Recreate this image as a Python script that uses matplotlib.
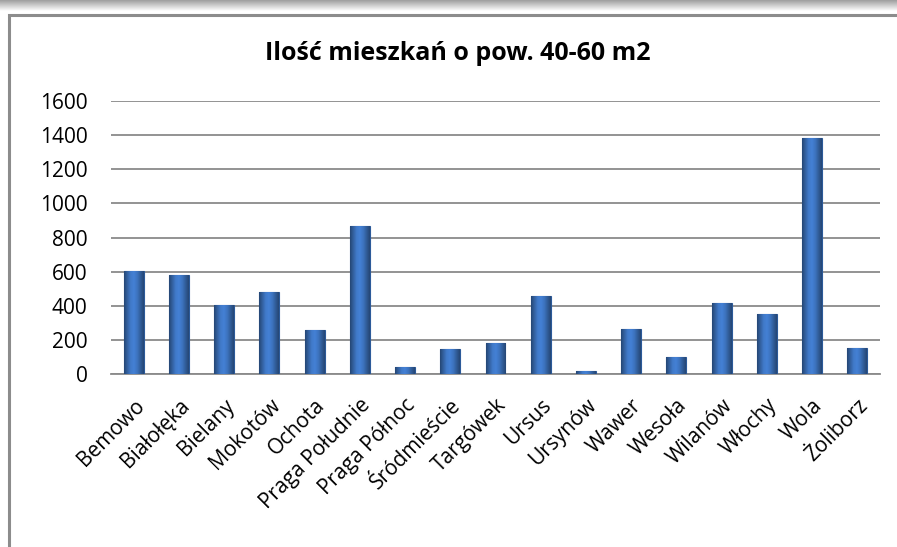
import numpy as np
import matplotlib.pyplot as plt
from matplotlib.patches import Rectangle

# Dane: liczba mieszkań o pow. 40-60 m2 w dzielnicach Warszawy
dzielnice = ['Bemowo', 'Białołęka', 'Bielany', 'Mokotów', 'Ochota',
             'Praga Południe', 'Praga Północ', 'Śródmieście', 'Targówek',
             'Ursus', 'Ursynów', 'Wawer', 'Wesoła', 'Wilanów', 'Włochy',
             'Wola', 'Żoliborz']
liczba = [604, 582, 406, 482, 260, 867, 43, 145, 184, 457, 17, 262, 98,
          418, 350, 1385, 154]
y_ticks = [0, 200, 400, 600, 800, 1000, 1200, 1400, 1600]

plt.rcParams['font.family'] = ['Open Sans', 'DejaVu Sans']

W, H = 897, 547
fig = plt.figure(figsize=(W / 100, H / 100), dpi=100)

# Szary pasek z cieniem u góry
grad = np.linspace(0.62, 1.0, 50).reshape(-1, 1)
bg = fig.add_axes([0, 1 - 11 / H, 1, 11 / H])
bg.imshow(np.dstack([grad] * 3), aspect='auto', extent=[0, 1, 0, 1], origin='upper')
bg.axis('off')

# Ramka wykresu
fig.patches.append(Rectangle((9 / W, -0.02), 1.1, 1 - 14.5 / H + 0.02,
                             transform=fig.transFigure, fill=False,
                             edgecolor='#8c8c8c', linewidth=2.2))

ax = fig.add_axes([111 / W, 1 - 374 / H, (880 - 111) / W, (374 - 101) / H])
x = np.arange(len(dzielnice))
bars = ax.bar(x, liczba, width=0.44, color='#3b6fb6', edgecolor='#2c5a99',
              linewidth=0.8, zorder=3)

# Gradient na słupkach
cmap_vals = np.array([0.55, 0.75, 0.95, 1.0, 0.9, 0.72, 0.55])
g = np.linspace(0, 1, len(cmap_vals))
xs = np.linspace(0, 1, 64)
shade = np.interp(xs, g, cmap_vals)
base = np.array([0x3b, 0x70, 0xb9]) / 255
img = np.clip(shade[None, :, None] * base[None, None, :] * 1.15, 0, 1)
for b in bars:
    bx, by = b.get_x(), b.get_y()
    bw, bh = b.get_width(), b.get_height()
    im = ax.imshow(img, extent=[bx, bx + bw, by, by + bh], aspect='auto',
                   zorder=4)
    im.set_clip_path(b)

ax.set_xlim(-0.5, len(dzielnice) - 0.5)
ax.set_ylim(0, 1600)
ax.set_yticks(y_ticks)
ax.set_yticklabels([str(v) for v in y_ticks], fontsize=15)
ax.grid(axis='y', color='#8a8a8a', linewidth=1.3, zorder=0)
ax.set_axisbelow(True)
for s in ['top', 'right', 'left']:
    ax.spines[s].set_visible(False)
ax.spines['bottom'].set_color('#8a8a8a')
ax.spines['bottom'].set_linewidth(1.3)
ax.tick_params(axis='y', length=0, pad=17)
ax.set_xticks(x)
ax.set_xticklabels(dzielnice, rotation=45, ha='right', rotation_mode='anchor',
                   fontsize=15)
ax.tick_params(axis='x', length=0, pad=15)

fig.text(458 / W, 1 - 53 / H, 'Ilość mieszkań o pow. 40-60 m2', ha='center',
         va='center', fontsize=18, fontweight='bold')

fig.savefig('out.png', dpi=100)
